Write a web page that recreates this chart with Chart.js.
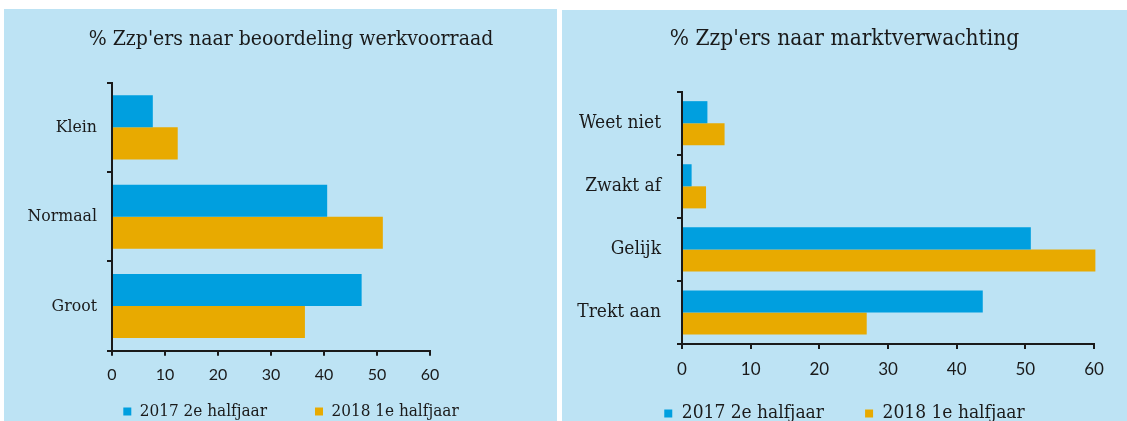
<!DOCTYPE html>
<html>
<head>
<meta charset="utf-8">
<script src="https://cdn.jsdelivr.net/npm/chart.js@4.4.1/dist/chart.umd.min.js"></script>
<style>
  body { margin: 0; width: 1127px; height: 421px; overflow: hidden; position: relative; background: #fff; }
  .paneel { position: absolute; background: #bde3f4; }
  canvas { position: absolute; }
</style>
</head>
<body>
<div class="paneel" style="left:4px; top:9px; width:553px; height:412px;"></div>
<div class="paneel" style="left:562px; top:10px; width:565px; height:411px;"></div>
<!-- de canvassen lopen onder het venster door, zodat de legenda net als in het origineel wordt afgesneden -->
<canvas id="werkvoorraad" width="574" height="421" style="left:4px; top:9px;"></canvas>
<canvas id="marktverwachting" width="565" height="423" style="left:562px; top:10px;"></canvas>
<script>
// data
const reeksNamen = ['2017 2e halfjaar', '2018 1e halfjaar'];
const werkCategorieen = ['Klein', 'Normaal', 'Groot'];
const werk2017 = [7.7, 40.6, 47.1];
const werk2018 = [12.4, 51.1, 36.4];
const marktCategorieen = ['Weet niet', 'Zwakt af', 'Gelijk', 'Trekt aan'];
const markt2017 = [3.7, 1.4, 50.8, 43.8];
const markt2018 = [6.2, 3.5, 60.2, 26.9];
const asMin = 0, asMax = 60, asStap = 10;

const blauw = '#009fdf';
const oranje = '#e8aa00';
const zwart = '#1a1a1a';
const schreef = "'DejaVu Serif Condensed', 'DejaVu Serif', serif";
const schreefloos = "Lato, 'Open Sans', sans-serif";

function maakGrafiek(id, titel, categorieen, reeks1, reeks2, opm) {
    const ctx = document.getElementById(id).getContext('2d');
    return new Chart(ctx, {
        type: 'bar',
        data: {
            labels: categorieen,
            datasets: [
                { label: reeksNamen[0], data: reeks1, backgroundColor: blauw },
                { label: reeksNamen[1], data: reeks2, backgroundColor: oranje }
            ]
        },
        options: {
            indexAxis: 'y',
            responsive: false,
            animation: false,
            categoryPercentage: opm.catPct,
            barPercentage: 1.0,
            clip: false,
            plugins: {
                title: {
                    display: true,
                    text: titel,
                    color: zwart,
                    font: { family: schreef, size: opm.titelGrootte, weight: 'normal' },
                    padding: { top: opm.titelBoven, bottom: opm.titelOnder }
                },
                legend: {
                    position: 'bottom',
                    labels: {
                        boxWidth: 8,
                        boxHeight: 8,
                        padding: 14,
                        color: zwart,
                        font: { family: schreef, size: opm.legendaGrootte },
                        // extra ruimte tussen de twee items
                        generateLabels: (chart) => {
                            const items = Chart.defaults.plugins.legend.labels.generateLabels(chart);
                            items[0].text += ' '.repeat(opm.spaties);
                            return items;
                        }
                    }
                },
                tooltip: { enabled: false }
            },
            scales: {
                x: {
                    min: asMin,
                    max: asMax,
                    ticks: { stepSize: asStap, color: zwart, padding: opm.xPad,
                             font: { family: schreefloos, size: opm.xGrootte } },
                    grid: { drawOnChartArea: false, tickLength: 5, color: zwart, lineWidth: 2 },
                    border: { color: zwart, width: 2 },
                    afterFit: (schaal) => { schaal.height = opm.xHoogte; }
                },
                y: {
                    ticks: { color: zwart, padding: opm.yPad,
                             font: { family: schreef, size: opm.yGrootte } },
                    grid: { drawOnChartArea: false, tickLength: 5, color: zwart, lineWidth: 2 },
                    border: { color: zwart, width: 2 },
                    afterFit: (schaal) => { schaal.width = opm.yBreedte; }
                },
                // lege as rechts: houdt ruimte vrij zonder titel en legenda te verschuiven
                ruimte: {
                    type: 'linear',
                    position: 'right',
                    grid: { display: false },
                    border: { display: false },
                    ticks: { display: false },
                    afterFit: (schaal) => { schaal.width = opm.rechts; }
                }
            }
        }
    });
}

maakGrafiek('werkvoorraad', "% Zzp'ers naar beoordeling werkvoorraad",
    werkCategorieen, werk2017, werk2018, {
        catPct: 0.717, rechts: 148, titelGrootte: 21, titelBoven: 18.4, titelOnder: 30.1,
        legendaGrootte: 17, spaties: 7, xGrootte: 16, xPad: 10, xHoogte: 38.3,
        yGrootte: 17.5, yPad: 10, yBreedte: 108
    });

maakGrafiek('marktverwachting', "% Zzp'ers naar marktverwachting",
    marktCategorieen, markt2017, markt2018, {
        catPct: 0.70, rechts: 33, titelGrootte: 22.5, titelBoven: 16, titelOnder: 38.7,
        legendaGrootte: 19, spaties: 5, xGrootte: 17, xPad: 10, xHoogte: 46,
        yGrootte: 19, yPad: 16, yBreedte: 120
    });
</script>
</body>
</html>
